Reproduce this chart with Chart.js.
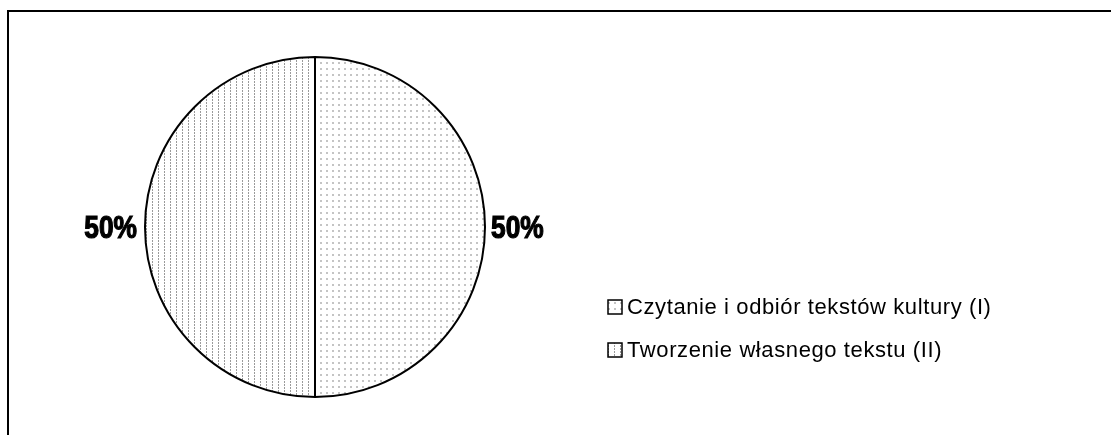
<!DOCTYPE html>
<html>
<head>
<meta charset="utf-8">
<script src="https://cdn.jsdelivr.net/npm/chart.js@4/dist/chart.umd.min.js"></script>
<style>
  html, body { margin: 0; padding: 0; background: #fff; }
  #wrap { position: relative; width: 1111px; height: 435px; }
</style>
</head>
<body>
<div id="wrap"><canvas id="c" width="1111" height="435"></canvas></div>
<script>
const categories = ["Czytanie i odbiór tekstów kultury (I)", "Tworzenie własnego tekstu (II)"];
const shares = [50, 50];
const shareLabels = ["50%", "50%"];

// fill patterns, roughly like the old office hatches
const makePattern = kind => {
  const p = document.createElement("canvas");
  const ctx = p.getContext("2d");
  if (kind === "dots") {
    p.width = 6; p.height = 6;
    ctx.fillStyle = "#fff";
    ctx.fillRect(0, 0, 6, 6);
    ctx.fillStyle = "#c4c4c4";
    ctx.fillRect(2, 2, 2, 2);
  } else {
    p.width = 6; p.height = 3;
    ctx.fillStyle = "#fff";
    ctx.fillRect(0, 0, 6, 3);
    ctx.fillStyle = "#9a9a9a";
    ctx.fillRect(2, 0, 1, 2);
  }
  return ctx.createPattern(p, "repeat");
};
const fills = [makePattern("dots"), makePattern("vlines")];

const framePlugin = {
  id: "frame",
  beforeDraw(chart) {
    const { ctx } = chart;
    ctx.save();
    ctx.fillStyle = "#fff";
    ctx.fillRect(0, 0, chart.width, chart.height);
    ctx.strokeStyle = "#000";
    ctx.lineWidth = 2;
    ctx.beginPath();
    ctx.moveTo(8, chart.height);
    ctx.lineTo(8, 11);
    ctx.lineTo(chart.width, 11);
    ctx.stroke();
    ctx.restore();
  },
};

// big condensed "50%" next to each half
const labelPlugin = {
  id: "sliceLabels",
  afterDatasetsDraw(chart) {
    const { ctx } = chart;
    const meta = chart.getDatasetMeta(0);
    ctx.save();
    ctx.fillStyle = "#000";
    ctx.strokeStyle = "#000";
    ctx.lineWidth = 1.2;
    ctx.font = "bold 31px 'Liberation Sans', Arial, sans-serif";
    ctx.textBaseline = "middle";
    meta.data.forEach((arc, i) => {
      const mid = (arc.startAngle + arc.endAngle) / 2;
      const right = Math.cos(mid) >= 0;
      const x = arc.x + Math.cos(mid) * (arc.outerRadius + (right ? 6 : 8));
      const y = arc.y + Math.sin(mid) * (arc.outerRadius + 6) + 2;
      ctx.save();
      ctx.translate(x, y);
      ctx.scale(0.85, 1);
      ctx.textAlign = right ? "left" : "right";
      ctx.fillText(shareLabels[i], 0, 0);
      ctx.strokeText(shareLabels[i], 0, 0);
      ctx.restore();
    });
    ctx.restore();
  },
};

const legendPlugin = {
  id: "boxLegend",
  afterDraw(chart) {
    const { ctx } = chart;
    ctx.save();
    ctx.font = "22px 'Liberation Sans', Arial, sans-serif";
    ctx.letterSpacing = "0.6px";
    ctx.textBaseline = "middle";
    ctx.textAlign = "left";
    categories.forEach((name, i) => {
      const y = 307 + i * 43;
      ctx.fillStyle = fills[i];
      ctx.fillRect(608, y - 7, 14, 14);
      ctx.strokeStyle = "#000";
      ctx.lineWidth = 1.5;
      ctx.strokeRect(608, y - 7, 14, 14);
      ctx.fillStyle = "#000";
      ctx.fillText(name, 627, y + 1);
    });
    ctx.restore();
  },
};

new Chart(document.getElementById("c"), {
  type: "pie",
  data: {
    labels: categories,
    datasets: [{
      data: shares,
      backgroundColor: fills,
      borderColor: "#000",
      borderWidth: 2,
    }],
  },
  options: {
    responsive: false,
    animation: false,
    layout: { padding: { left: 144, right: 625, top: 56, bottom: 37 } },
    plugins: {
      legend: { display: false },
      tooltip: { enabled: false },
    },
  },
  plugins: [framePlugin, labelPlugin, legendPlugin],
});
</script>
</body>
</html>
